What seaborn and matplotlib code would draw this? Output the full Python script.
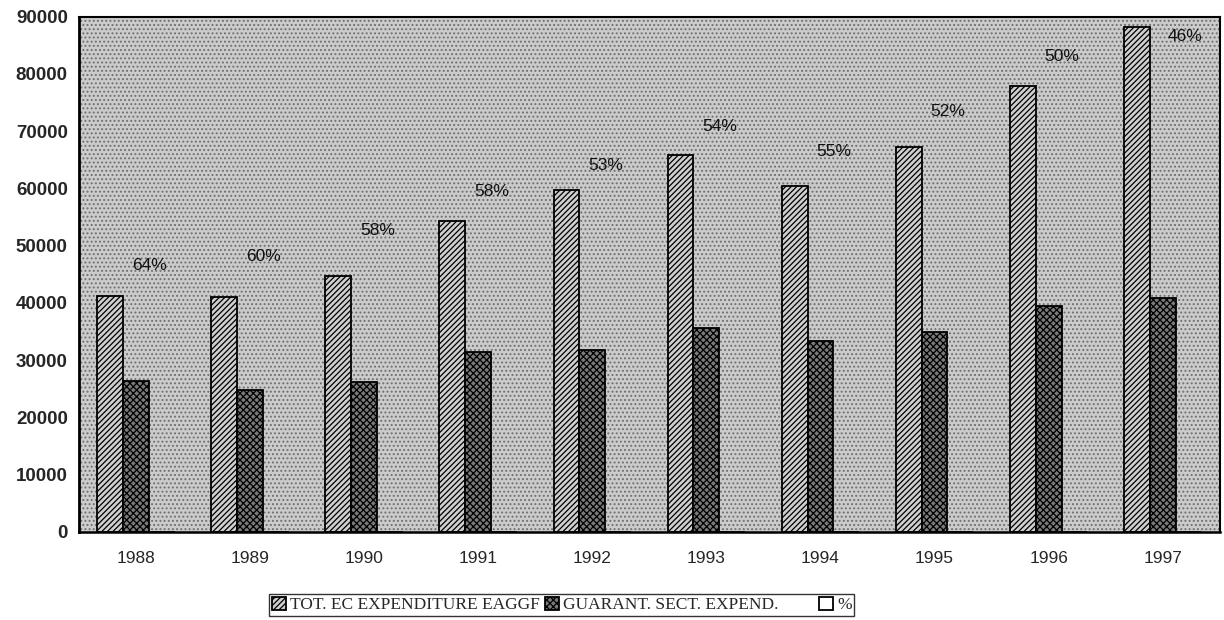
import numpy as np
import pandas as pd
import matplotlib
matplotlib.use("Agg")
import matplotlib.pyplot as plt
from matplotlib.patches import Rectangle
import seaborn as sns

# ---- data ----
years = ["1988", "1989", "1990", "1991", "1992", "1993", "1994", "1995", "1996", "1997"]
tot_exp = [41200, 41000, 44700, 54300, 59700, 65900, 60400, 67200, 77900, 88200]
guar_exp = [26400, 24800, 26200, 31400, 31800, 35600, 33400, 34900, 39500, 40900]
pct = [64, 60, 58, 58, 53, 54, 55, 52, 50, 46]
pct_label_height = [46500, 48200, 52600, 59400, 64100, 70900, 66500, 73400, 83100, 86500]
series_names = ["TOT. EC EXPENDITURE EAGGF", "GUARANT. SECT. EXPEND.", "%"]
y_ticks = [0, 10000, 20000, 30000, 40000, 50000, 60000, 70000, 80000, 90000]

df = pd.DataFrame({
    "year": years * 3,
    "series": [series_names[0]] * 10 + [series_names[1]] * 10 + [series_names[2]] * 10,
    "value": tot_exp + guar_exp + pct,
})

sns.set_theme(style="white")
plt.rcParams["font.family"] = ["Liberation Sans", "DejaVu Sans"]
plt.rcParams["hatch.linewidth"] = 0.9

fig = plt.figure(figsize=(12.24, 6.2), dpi=100)
ax = fig.add_axes([0.0645, 0.142, 0.932, 0.831])

# stippled background
ax.set_facecolor("#cbcbcb")
bg = Rectangle((0, 0), 1, 1, transform=ax.transAxes, facecolor="none",
               edgecolor="#6f6f6f", linewidth=0, hatch="....", zorder=0)
ax.add_patch(bg)

sns.barplot(data=df, x="year", y="value", hue="series", hue_order=series_names,
            palette=["#cfcfcf", "#7a7a7a", "#ffffff"], width=0.68, gap=0,
            edgecolor="black", linewidth=1.3, saturation=1, legend=False, ax=ax, zorder=2)

hatches = ["//////", "xxxxx", ""]
for cont, h in zip(ax.containers, hatches):
    for p in cont:
        p.set_hatch(h)

# percentage labels
for i, (p, yh) in enumerate(zip(pct, pct_label_height)):
    dx = 0.2 if i == len(pct) - 1 else 0.115
    ax.text(i + dx, yh, f"{p}%", ha="center", va="center", fontsize=12.5, color="#111111")

ax.set_ylim(0, 90000)
ax.set_xlim(-0.5, 9.5)
ax.set_yticks(y_ticks)
ax.set_yticklabels([str(t) for t in y_ticks], fontsize=13.5, fontweight="bold")
ax.set_xticks(range(len(years)))
ax.set_xticklabels(years, fontsize=12.5)
ax.set_xticks(np.arange(-0.5, 10, 1), minor=True)
ax.tick_params(axis="x", which="major", length=0, pad=14)
ax.tick_params(axis="x", which="minor", length=6, width=1.2, direction="out", color="black")
ax.tick_params(axis="y", which="major", length=5, width=1.2, direction="out", color="black", pad=3)
ax.set_xlabel("")
ax.set_ylabel("")

for side in ["left", "bottom", "top", "right"]:
    ax.spines[side].set_visible(True)
    ax.spines[side].set_color("black")
ax.spines["left"].set_linewidth(2.0)
ax.spines["bottom"].set_linewidth(1.8)
ax.spines["top"].set_linewidth(1.5)
ax.spines["right"].set_linewidth(1.5)

handles = [cont[0] for cont in ax.containers]
leg = fig.legend(handles, series_names, loc="center", bbox_to_anchor=(0.459, 0.024),
                 ncol=3, frameon=True, fancybox=False, edgecolor="black",
                 prop={"family": ["Liberation Serif"], "size": 12.5},
                 handlelength=0.8, handleheight=0.8, handletextpad=0.25,
                 columnspacing=0.3, borderpad=0.15)
leg.get_frame().set_linewidth(1.0)
# put a wider gap before the "%" entry, as in the reference
leg._legend_handle_box.get_children()[2].set_offset
texts = leg.get_texts()
texts[1].set_text(series_names[1] + "        ")

fig.savefig("out.png", dpi=100)
